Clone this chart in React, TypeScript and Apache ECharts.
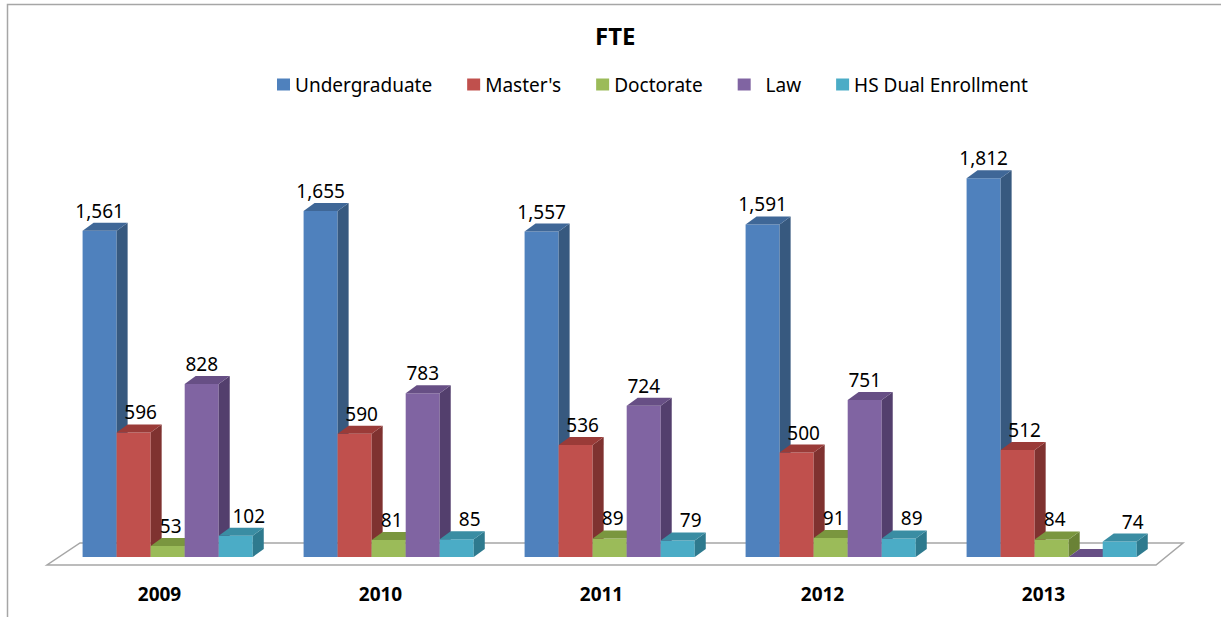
import React, { useEffect, useRef } from "react";
import * as echarts from "echarts";

const years = ["2009", "2010", "2011", "2012", "2013"];
const seriesNames = ["Undergraduate", "Master's", "Doctorate", "Law", "HS Dual Enrollment"];
const undergraduate = [1561, 1655, 1557, 1591, 1812];
const masters = [596, 590, 536, 500, 512];
const doctorate = [53, 81, 89, 91, 84];
const law = [828, 783, 724, 751, 0];
const hsDual = [102, 85, 79, 89, 74];
const seriesValues = [undergraduate, masters, doctorate, law, hsDual];

const colors = ["#4F81BD", "#C0504D", "#9BBB59", "#8064A2", "#4BACC6"];
const sideColors = ["#37597F", "#7F3230", "#6A8236", "#533F6D", "#2E7A8E"];
const topColors = ["#3F6797", "#9A3B38", "#7A963F", "#674F85", "#3A8DA3"];
const labelOffsets = [0, 7, 3, 0, 13];

const FONT = "'Noto Sans', 'Open Sans', sans-serif";

export default function App() {
  const ref = useRef<HTMLDivElement>(null);
  useEffect(() => {
    document.body.style.margin = "0";
    const chart = echarts.init(ref.current!, null, { renderer: "svg" });
    const dx = 11;
    const dy = -8;
    const series = seriesValues.map((vals, si) => ({
      type: "custom",
      name: seriesNames[si],
      itemStyle: { color: colors[si] },
      encode: { x: 0, y: 1 },
      data: vals.map((v, i) => [i, v]),
      clip: false,
      renderItem: (params: any, api: any) => {
        const ci = api.value(0);
        const val = api.value(1);
        const base = api.coord([ci, 0]);
        const top = api.coord([ci, val]);
        const band = api.size([1, 0])[0];
        const w = band * 0.154;
        const x0 = base[0] - band * 0.348 + si * w;
        const yb = base[1];
        const yt = top[1];
        const children: any[] = [
          {
            type: "rect",
            shape: { x: x0, y: yt, width: w, height: yb - yt },
            style: { fill: colors[si] },
          },
          {
            type: "polygon",
            shape: {
              points: [
                [x0 + w, yt],
                [x0 + w + dx, yt + dy],
                [x0 + w + dx, yb + dy],
                [x0 + w, yb],
              ],
            },
            style: { fill: sideColors[si] },
          },
          {
            type: "polygon",
            shape: {
              points: [
                [x0, yt],
                [x0 + dx, yt + dy],
                [x0 + w + dx, yt + dy],
                [x0 + w, yt],
              ],
            },
            style: { fill: topColors[si] },
          },
        ];
        if (val > 0) {
          children.push({
            type: "text",
            style: {
              text: val.toLocaleString("en-US"),
              x: x0 + w / 2 + labelOffsets[si],
              y: yt - 20,
              align: "center",
              verticalAlign: "middle",
              fill: "#000",
              font: `19px ${FONT}`,
            },
          });
        }
        return { type: "group", children };
      },
    }));
    chart.setOption({
      animation: false,
      color: colors,
      title: {
        text: "FTE",
        left: 590,
        top: 18,
        textStyle: { fontFamily: FONT, fontSize: 24, fontWeight: "bold", color: "#000" },
      },
      legend: {
        top: 70,
        left: 272,
        itemWidth: 13,
        itemHeight: 12,
        itemGap: 35,
        icon: "rect",
        data: seriesNames,
        formatter: (n: string) => (n === "Law" ? "  Law" : n),
        textStyle: { fontFamily: FONT, fontSize: 19, color: "#000" },
      },
      graphic: [
        {
          type: "rect",
          z: -10,
          shape: { x: 7.5, y: 4.5, width: 1400, height: 800 },
          style: { fill: "none", stroke: "#A6A6A6", lineWidth: 1.5 },
        },
        {
          type: "polygon",
          z: -5,
          shape: {
            points: [
              [47, 565],
              [1156, 565],
              [1183, 543],
              [80, 543],
            ],
          },
          style: { fill: "#fff", stroke: "#A6A6A6", lineWidth: 1.5 },
        },
      ],
      grid: { left: 49, right: 67, top: 139, bottom: 60 },
      xAxis: {
        type: "category",
        data: years,
        axisLine: { show: false },
        axisTick: { show: false },
        axisLabel: {
          margin: 27,
          fontFamily: FONT,
          fontSize: 19,
          fontWeight: "bold",
          color: "#000",
        },
      },
      yAxis: {
        type: "value",
        min: 0,
        max: 2000,
        show: false,
        splitLine: { show: false },
      },
      series,
    });
    return () => chart.dispose();
  }, []);
  return <div ref={ref} style={{ width: 1221, height: 617 }} />;
}
